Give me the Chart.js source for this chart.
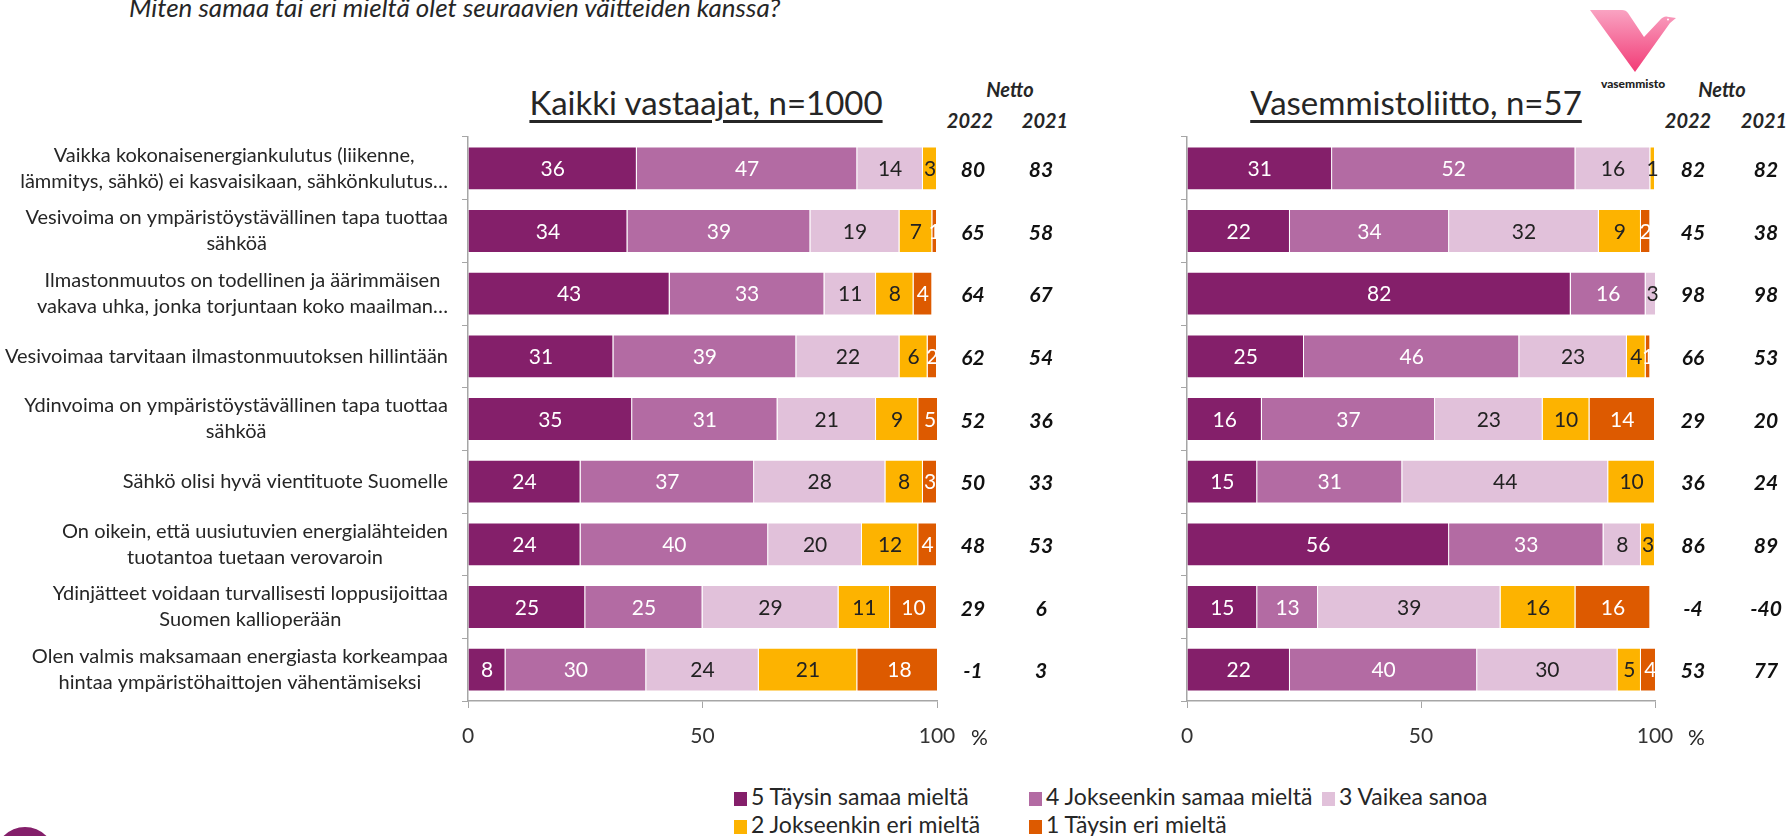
<!DOCTYPE html>
<html lang="fi">
<head>
<meta charset="UTF-8">
<title>Väitteet – energia</title>
<script src="https://cdn.jsdelivr.net/npm/chart.js"></script>
<style>
    body {
        margin: 0;
        width: 1790px;
        height: 836px;
        background: #fff;
        position: relative;
        overflow: hidden;
        font-family: 'Lato', sans-serif;
        color: #262626;
    }
    .abs { position: absolute; white-space: nowrap; }
    .question { left: 129px; top: -9px; font-size: 26px; font-style: italic; }
    .heading { top: 82px; font-size: 33px; text-decoration: underline; text-underline-offset: 5px; transform: translateX(-50%); }
    .netto { font-size: 20px; font-weight: bold; font-style: italic; transform: translateX(-50%); }
    .pct { top: 724px; font-size: 21px; }
    .legend { font-size: 23px; }
    .legend i { display: inline-block; width: 13px; height: 14px; margin-right: 4px; vertical-align: -1px; }
    canvas { position: absolute; }
</style>
</head>
<body>

<div class="abs question">Miten samaa tai eri mieltä olet seuraavien väitteiden kanssa?</div>

<div class="abs heading" style="left:706px">Kaikki vastaajat, n=1000</div>
<div class="abs heading" style="left:1416px">Vasemmistoliitto, n=57</div>

<div class="abs netto" style="left:1010px; top:77px">Netto</div>
<div class="abs netto" style="left:970px; top:108px">2022</div>
<div class="abs netto" style="left:1045px; top:108px">2021</div>
<div class="abs netto" style="left:1722px; top:77px">Netto</div>
<div class="abs netto" style="left:1688px; top:108px">2022</div>
<div class="abs netto" style="left:1764px; top:108px">2021</div>

<!-- logo -->
<svg class="abs" style="left:1588px; top:0" width="92" height="92" viewBox="0 0 92 92">
    <defs>
        <linearGradient id="vg" x1="0" y1="0" x2="0" y2="1">
            <stop offset="0" stop-color="#f9a3c2"/>
            <stop offset="1" stop-color="#f23b76"/>
        </linearGradient>
    </defs>
    <path d="M2,10 L34,10 Q38,10 40,13 L56,37 L72,20 Q76,15 81,17 L88,18 L82,23 L47,72 Z" fill="url(#vg)"/>
    <circle cx="80" cy="19.5" r="1" fill="#fff"/>
    <text x="45" y="88" font-family="Lato" font-weight="900" font-size="12" fill="#222" text-anchor="middle">vasemmisto</text>
</svg>

<canvas id="leftChart" width="1100" height="630" style="left:0; top:130px"></canvas>
<canvas id="rightChart" width="640" height="630" style="left:1150px; top:130px"></canvas>

<div class="abs pct" style="left:971px">%</div>
<div class="abs pct" style="left:1688px">%</div>

<div class="abs legend" style="left:734px; top:782px"><i style="background:#841f6a"></i>5 Täysin samaa mieltä</div>
<div class="abs legend" style="left:1029px; top:782px"><i style="background:#b36ba3"></i>4 Jokseenkin samaa mieltä</div>
<div class="abs legend" style="left:1322px; top:782px"><i style="background:#e1c1da"></i>3 Vaikea sanoa</div>
<div class="abs legend" style="left:734px; top:810px"><i style="background:#fdb300"></i>2 Jokseenkin eri mieltä</div>
<div class="abs legend" style="left:1029px; top:810px"><i style="background:#dd5a00"></i>1 Täysin eri mieltä</div>

<div class="abs" style="left:-5px; top:827px; width:60px; height:60px; border-radius:50%; background:#841f6a"></div>

<script>
// statements (y categories)
const statements = [
    ['Vaikka kokonaisenergiankulutus (liikenne,', 'lämmitys, sähkö) ei kasvaisikaan, sähkönkulutus…'],
    ['Vesivoima on ympäristöystävällinen tapa tuottaa', 'sähköä'],
    ['Ilmastonmuutos on todellinen ja äärimmäisen', 'vakava uhka, jonka torjuntaan koko maailman…'],
    ['Vesivoimaa tarvitaan ilmastonmuutoksen hillintään'],
    ['Ydinvoima on ympäristöystävällinen tapa tuottaa', 'sähköä'],
    ['Sähkö olisi hyvä vientituote Suomelle'],
    ['On oikein, että uusiutuvien energialähteiden', 'tuotantoa tuetaan verovaroin'],
    ['Ydinjätteet voidaan turvallisesti loppusijoittaa', 'Suomen kallioperään'],
    ['Olen valmis maksamaan energiasta korkeampaa', 'hintaa ympäristöhaittojen vähentämiseksi']
];

const levels = ['5 Täysin samaa mieltä', '4 Jokseenkin samaa mieltä', '3 Vaikea sanoa',
                '2 Jokseenkin eri mieltä', '1 Täysin eri mieltä'];
const colors = ['#841f6a', '#b36ba3', '#e1c1da', '#fdb300', '#dd5a00'];
const labelColors = ['#fff', '#fff', '#222', '#222', '#fff'];

// Kaikki vastaajat, n=1000
const kaikki5 = [36, 34, 43, 31, 35, 24, 24, 25, 8];
const kaikki4 = [47, 39, 33, 39, 31, 37, 40, 25, 30];
const kaikki3 = [14, 19, 11, 22, 21, 28, 20, 29, 24];
const kaikki2 = [3, 7, 8, 6, 9, 8, 12, 11, 21];
const kaikki1 = [0, 1, 4, 2, 5, 3, 4, 10, 18];
const kaikkiNetto2022 = [80, 65, 64, 62, 52, 50, 48, 29, -1];
const kaikkiNetto2021 = [83, 58, 67, 54, 36, 33, 53, 6, 3];

// Vasemmistoliitto, n=57
const vas5 = [31, 22, 82, 25, 16, 15, 56, 15, 22];
const vas4 = [52, 34, 16, 46, 37, 31, 33, 13, 40];
const vas3 = [16, 32, 3, 23, 23, 44, 8, 39, 30];
const vas2 = [1, 9, 0, 4, 10, 10, 3, 16, 5];
const vas1 = [0, 2, 0, 1, 14, 0, 0, 16, 4];
const vasNetto2022 = [82, 45, 98, 66, 29, 36, 86, -4, 53];
const vasNetto2021 = [82, 38, 98, 53, 20, 24, 89, -40, 77];

const FONT = 'Lato, sans-serif';

// numbers inside the bar segments
const segmentLabels = {
    id: 'segmentLabels',
    afterDatasetsDraw(chart) {
        const ctx = chart.ctx;
        ctx.save();
        ctx.font = '21px ' + FONT;
        ctx.textAlign = 'center';
        ctx.textBaseline = 'middle';
        chart.data.datasets.forEach((ds, i) => {
            chart.getDatasetMeta(i).data.forEach((bar, j) => {
                const v = ds.data[j];
                if (!v) return;
                ctx.fillStyle = labelColors[i];
                ctx.fillText(String(v), (bar.x + bar.base) / 2, bar.y + 1);
            });
        });
        ctx.restore();
    }
};

// wrapped statement labels + netto columns
const sideText = {
    id: 'sideText',
    afterDraw(chart, args, opts) {
        const ctx = chart.ctx;
        const y = chart.scales.y;
        ctx.save();
        ctx.textBaseline = 'middle';
        if (opts.labels) {
            ctx.font = '20px ' + FONT;
            ctx.fillStyle = '#262626';
            ctx.textAlign = 'center';
            const right = y.right - 20;
            opts.labels.forEach((lines, i) => {
                const w = Math.max(...lines.map(l => ctx.measureText(l).width));
                const cy = y.getPixelForValue(i);
                const lh = 26;
                lines.forEach((l, k) => {
                    ctx.fillText(l, right - w / 2, cy + (k - (lines.length - 1) / 2) * lh);
                });
            });
        }
        ctx.font = 'italic bold 21px ' + FONT;
        ctx.fillStyle = '#111';
        ctx.textAlign = 'center';
        opts.netto.forEach((col, c) => {
            col.forEach((v, i) => {
                ctx.fillText(String(v), opts.nettoX[c], y.getPixelForValue(i) + 2);
            });
        });
        ctx.restore();
    }
};

function makeChart(id, series, sideOpts, yWidth, padRight) {
    return new Chart(document.getElementById(id), {
        type: 'bar',
        data: {
            labels: statements.map(s => s.join(' ')),
            datasets: series.map((d, i) => ({
                label: levels[i],
                data: d,
                backgroundColor: colors[i],
                borderColor: 'rgba(255,255,255,0.7)',
                borderWidth: 1,
                barPercentage: 0.70,
                categoryPercentage: 1
            }))
        },
        options: {
            responsive: false,
            animation: false,
            indexAxis: 'y',
            layout: { padding: { top: 7, right: padRight, bottom: 9, left: 0 } },
            plugins: {
                legend: { display: false },
                tooltip: { enabled: false },
                sideText: sideOpts
            },
            scales: {
                x: {
                    stacked: true,
                    min: 0,
                    max: 100,
                    ticks: { stepSize: 50, color: '#333', padding: 16, font: { family: FONT, size: 21 } },
                    grid: { drawOnChartArea: false, tickLength: 7, color: '#a6a6a6' },
                    border: { color: '#a6a6a6', width: 1.5 },
                    afterFit: s => { s.height = 50; }
                },
                y: {
                    stacked: true,
                    ticks: { display: false },
                    grid: { drawOnChartArea: false, tickLength: 6, color: '#a6a6a6', offset: true },
                    border: { color: '#a6a6a6', width: 1.5 },
                    afterFit: s => { s.width = yWidth; }
                }
            }
        },
        plugins: [segmentLabels, sideText]
    });
}

makeChart('leftChart', [kaikki5, kaikki4, kaikki3, kaikki2, kaikki1],
    { labels: statements, netto: [kaikkiNetto2022, kaikkiNetto2021], nettoX: [973, 1041] }, 468, 163);

makeChart('rightChart', [vas5, vas4, vas3, vas2, vas1],
    { labels: null, netto: [vasNetto2022, vasNetto2021], nettoX: [543, 616] }, 37, 135);
</script>
</body>
</html>
